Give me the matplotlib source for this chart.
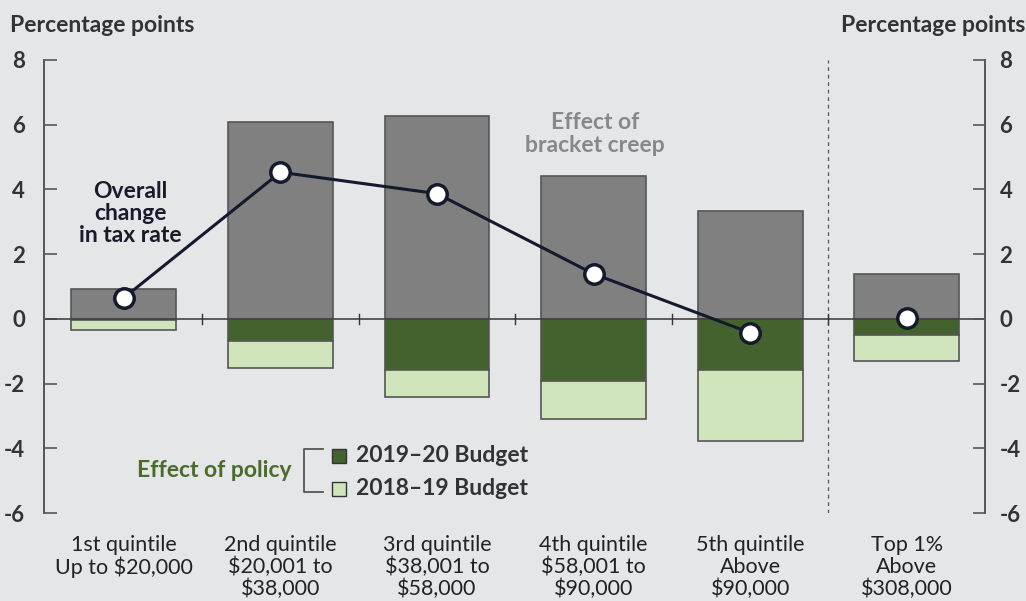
import numpy as np
import matplotlib.pyplot as plt

categories = ["1st quintile\nUp to $20,000", "2nd quintile\n$20,001 to\n$38,000",
              "3rd quintile\n$38,001 to\n$58,000", "4th quintile\n$58,001 to\n$90,000",
              "5th quintile\nAbove\n$90,000", "Top 1%\nAbove\n$308,000"]
bracket_creep = [0.93, 6.09, 6.26, 4.40, 3.33, 1.39]
budget_1920 = [-0.05, -0.67, -1.58, -1.92, -1.58, -0.49]
budget_1819 = [-0.30, -0.86, -0.83, -1.18, -2.19, -0.80]
overall = [0.65, 4.53, 3.87, 1.39, -0.43, 0.03]
yticks = [8, 6, 4, 2, 0, -2, -4, -6]

bg = "#e5e6e8"
grey = "#808080"
dark = "#44622e"
light = "#d0e5bc"
edge = "#555555"
navy = "#141a2c"
txt = "#333333"

plt.rcParams['font.family'] = ['Lato', 'DejaVu Sans']
plt.rcParams['axes.unicode_minus'] = False

fig = plt.figure(figsize=(10.26, 6.01), dpi=100, facecolor=bg)
ax = fig.add_axes([0.0429, 0.1464, 0.9171, 0.7538], facecolor=bg)

x = np.arange(len(categories))
w = 0.67
ax.bar(x, bracket_creep, w, color=grey, edgecolor=edge, linewidth=1.2, zorder=2)
ax.bar(x, budget_1920, w, color=dark, edgecolor=edge, linewidth=1.2, zorder=2)
ax.bar(x, budget_1819, w, bottom=budget_1920, color=light, edgecolor=edge, linewidth=1.2, zorder=2)

ax.axhline(0, color="#444444", lw=1.2, zorder=3)
for xt in [0.5, 1.5, 2.5, 3.5, 4.5]:
    ax.plot([xt, xt], [-0.15, 0.15], color="#333333", lw=1.0, zorder=3)
ax.axvline(4.5, color="#555555", lw=0.9, ls=(0, (3, 3)), zorder=1)

ax.plot(x[:5], overall[:5], color=navy, lw=2.2, zorder=4)
ax.plot(x, overall, "o", ms=14, mfc="white", mec=navy, mew=2.5, zorder=5)

ax.set_xlim(-0.51, 5.5)
ax.set_ylim(-6, 8)
ax.set_yticks(yticks)
ax.set_xticks(x)
ax.set_xticklabels(categories, fontsize=15.5, color="#222222", linespacing=1.1)
ax.tick_params(axis='x', length=0, pad=16)
ax.tick_params(axis='y', direction='in', length=9, width=1.2, color="#555555",
               labelsize=16, labelcolor=txt, pad=13.5)
for lab in ax.get_yticklabels():
    lab.set_fontweight("bold")

ax2 = ax.twinx()
ax2.set_ylim(-6, 8)
ax2.set_yticks(yticks)
ax2.tick_params(axis='y', direction='in', length=9, width=1.2, color="#555555",
                labelsize=16, labelcolor=txt, pad=10.5)
for lab in ax2.get_yticklabels():
    lab.set_fontweight("bold")

for a in (ax, ax2):
    a.spines['top'].set_visible(False)
    a.spines['bottom'].set_visible(False)
    a.spines['left'].set_color("#555555")
    a.spines['right'].set_color("#555555")
    a.spines['left'].set_linewidth(1.2)
    a.spines['right'].set_linewidth(1.2)

fig.text(0.01, 0.957, "Percentage points", fontsize=16.5, fontweight="bold", color=txt, va="center")
fig.text(0.999, 0.957, "Percentage points", fontsize=16.5, fontweight="bold", color=txt,
         va="center", ha="right")

ax.text(0.04, 3.25, "Overall\nchange\nin tax rate", ha="center", va="center", fontsize=16.5,
        fontweight="bold", color="#1a1a2a", linespacing=1.06)
ax.text(3.01, 5.72, "Effect of\nbracket creep", ha="center", va="center", fontsize=16.5,
        fontweight="bold", color="#888888", linespacing=1.1)

# legend
ax.text(0.575, -4.70, "Effect of policy", ha="center", va="center", fontsize=16.5,
        fontweight="bold", color="#4a6b2a")
ax.plot([1.27, 1.15, 1.15, 1.27], [-4.02, -4.02, -5.35, -5.35], color="#555555", lw=1.3,
        clip_on=False)
ax.plot([1.373], [-4.23], "s", ms=10, mfc=dark, mec="#333333", mew=1)
ax.plot([1.373], [-5.25], "s", ms=10, mfc=light, mec="#333333", mew=1)
ax.text(1.48, -4.23, "2019\u201320 Budget", va="center", fontsize=16.5, fontweight="bold", color=txt)
ax.text(1.48, -5.25, "2018\u201319 Budget", va="center", fontsize=16.5, fontweight="bold", color=txt)

fig.savefig("out.png", dpi=100, facecolor=bg)
